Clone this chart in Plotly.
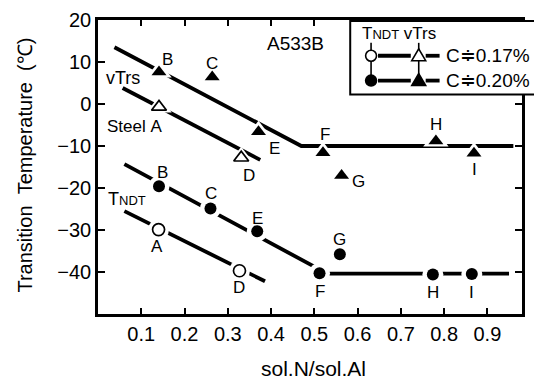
import plotly.graph_objects as go

# ---------------- data ----------------
vtrs_020_x = [0.141, 0.264, 0.371, 0.520, 0.563, 0.781, 0.869]
vtrs_020_y = [7.6, 6.4, -6.6, -11.6, -17.0, -8.8, -11.7]
vtrs_020_lab = ["B", "C", "E", "F", "G", "H", "I"]

vtrs_017_x = [0.141, 0.331]
vtrs_017_y = [-0.7, -12.8]
vtrs_017_lab = ["Steel\u00a0A", "D"]

tndt_020_x = [0.141, 0.260, 0.368, 0.512, 0.559, 0.774, 0.864]
tndt_020_y = [-19.6, -24.9, -30.3, -40.3, -35.8, -40.6, -40.5]
tndt_020_lab = ["B", "C", "E", "F", "G", "H", "I"]

tndt_017_x = [0.140, 0.327]
tndt_017_y = [-29.9, -39.7]
tndt_017_lab = ["A", "D"]

# trend lines (break points)
line_vtrs_020_x = [0.038, 0.470, 0.960]
line_vtrs_020_y = [13.5, -10.0, -10.0]
line_vtrs_017_x = [0.057, 0.375]
line_vtrs_017_y = [3.8, -13.3]
line_tndt_020_x = [0.061, 0.530, 0.950]
line_tndt_020_y = [-14.3, -40.4, -40.4]
line_tndt_017_x = [0.061, 0.386]
line_tndt_017_y = [-25.5, -42.2]

x_ticks = [0.1, 0.2, 0.3, 0.4, 0.5, 0.6, 0.7, 0.8, 0.9]
y_ticks = [-40, -30, -20, -10, 0, 10, 20]

# label offsets in pixels (dx, dy) – styling
off_vtrs_020 = [(8, 13), (0, 14), (16, -17), (2, 18), (17, -6), (0, 16), (1, -16)]
off_vtrs_017 = [(5, -20), (8, -18)]
off_tndt_020 = [(3, 14), (1, 15), (0, 13), (0, -18), (0, 15), (0, -18), (0, -18)]
off_tndt_017 = [(-2, -17), (0, -17)]

# ---------------- layout geometry ----------------
W, H = 534, 382
L, R, T, B = 98, 525, 18, 314
PW, PH = R - L, B - T

def px(x):
    return (x - L) / PW

def py(y):
    return (B - y) / PH

FONT = "Liberation Sans, Arial, Helvetica, sans-serif"

fig = go.Figure()

LW = 3.8
for lx, ly in [(line_vtrs_020_x, line_vtrs_020_y), (line_vtrs_017_x, line_vtrs_017_y),
               (line_tndt_020_x, line_tndt_020_y), (line_tndt_017_x, line_tndt_017_y)]:
    fig.add_trace(go.Scatter(x=lx, y=ly, mode="lines", line=dict(color="black", width=LW),
                             hoverinfo="skip", showlegend=False))

series = [
    (vtrs_020_x, vtrs_020_y, "triangle-up", True, 13),
    (vtrs_017_x, vtrs_017_y, "triangle-up-open", False, 13),
    (tndt_020_x, tndt_020_y, "circle", True, 12),
    (tndt_017_x, tndt_017_y, "circle-open", False, 12),
]
# white halo to break the lines around markers
for sx, sy, sym, filled, sz in series:
    hs = "triangle-up" if "triangle" in sym else "circle"
    fig.add_trace(go.Scatter(x=sx, y=sy, mode="markers",
                             marker=dict(symbol=hs, size=sz + 9, color="white", line=dict(width=0)),
                             hoverinfo="skip", showlegend=False, cliponaxis=False))
for sx, sy, sym, filled, sz in series:
    if filled:
        mk = dict(symbol=sym, size=sz, color="black", line=dict(width=0))
    else:
        mk = dict(symbol=sym, size=sz, color="black", line=dict(width=1.7, color="black"))
    fig.add_trace(go.Scatter(x=sx, y=sy, mode="markers", marker=mk,
                             hoverinfo="skip", showlegend=False, cliponaxis=False))

annotations = []
for sx, sy, labs, offs in [(vtrs_020_x, vtrs_020_y, vtrs_020_lab, off_vtrs_020),
                           (vtrs_017_x, vtrs_017_y, vtrs_017_lab, off_vtrs_017),
                           (tndt_020_x, tndt_020_y, tndt_020_lab, off_tndt_020),
                           (tndt_017_x, tndt_017_y, tndt_017_lab, off_tndt_017)]:
    for x, y, t, (dx, dy) in zip(sx, sy, labs, offs):
        xa = "right" if "Steel" in t else "center"
        annotations.append(dict(x=x, y=y, xref="x", yref="y", text=t, showarrow=False,
                                xanchor=xa, yanchor="middle", xshift=dx, yshift=dy,
                                font=dict(family=FONT, size=17, color="black")))

def ptext(text, x, y, size, xanchor="center", angle=0):
    annotations.append(dict(x=px(x), y=py(y), xref="paper", yref="paper", text=text,
                            showarrow=False, xanchor=xanchor, yanchor="middle",
                            textangle=angle, font=dict(family=FONT, size=size, color="black")))

SMALL = "<span style='font-size:13px'>NDT</span>"
ptext("A533B", 297, 42, 19)
ptext("vTrs", 123, 76, 18)
ptext("T" + SMALL, 127, 198, 18)
ptext("Transition\u00a0\u00a0Temperature\u00a0\u00a0(\u2103)", 24, 164, 20, angle=-90)
ptext("sol.N/sol.Al", 315, 369, 21)

# legend
ptext("T" + SMALL + "\u00a0vTrs", 362, 32, 17, xanchor="left")
ptext("C\u22510.17%", 446, 54, 19, xanchor="left")
ptext("C\u22510.20%", 446, 79, 19, xanchor="left")

shapes = [dict(type="rect", xref="paper", yref="paper", x0=px(352), x1=px(545), y0=py(93), y1=py(19),
               line=dict(color="black", width=2), fillcolor="white", layer="above")]
for yy in (54, 79):
    shapes.append(dict(type="line", xref="paper", yref="paper", x0=px(380), x1=px(413), y0=py(yy), y1=py(yy),
                       line=dict(color="black", width=LW), layer="above"))
    shapes.append(dict(type="line", xref="paper", yref="paper", x0=px(428), x1=px(442), y0=py(yy), y1=py(yy),
                       line=dict(color="black", width=LW), layer="above"))
for xx in (373, 421):
    shapes.append(dict(type="line", xref="paper", yref="paper", x0=px(xx), x1=px(xx), y0=py(41), y1=py(79),
                       line=dict(color="black", width=1.6), layer="above"))
# legend markers
r = 5.5
shapes.append(dict(type="circle", xref="paper", yref="paper", x0=px(373 - r), x1=px(373 + r),
                   y0=py(54 + r), y1=py(54 - r), line=dict(color="black", width=1.6), fillcolor="white", layer="above"))
shapes.append(dict(type="circle", xref="paper", yref="paper", x0=px(373 - r), x1=px(373 + r),
                   y0=py(79 + r), y1=py(79 - r), line=dict(color="black", width=1.6), fillcolor="black", layer="above"))

def tri(cx, cy, fill):
    p = "M {:.4f} {:.4f} L {:.4f} {:.4f} L {:.4f} {:.4f} Z".format(
        px(cx - 7), py(cy + 5), px(cx + 7), py(cy + 5), px(cx), py(cy - 7))
    return dict(type="path", xref="paper", yref="paper", path=p,
                line=dict(color="black", width=1.6), fillcolor=fill, layer="above")

shapes.append(tri(421, 54, "white"))
shapes.append(tri(421, 79, "black"))

axis_common = dict(showgrid=False, zeroline=False, showline=True, linecolor="black", linewidth=2.5,
                   mirror="ticks", ticks="inside", tickcolor="black", tickwidth=2,
                   tickfont=dict(family=FONT, size=20, color="black"))

fig.update_layout(
    width=W, height=H,
    margin=dict(l=L, r=W - R, t=T, b=H - B, pad=0),
    paper_bgcolor="white", plot_bgcolor="white",
    xaxis=dict(range=[0, 0.98], tickvals=x_ticks, ticktext=[str(v) for v in x_ticks], ticklen=6, **axis_common),
    yaxis=dict(range=[-50, 20], tickvals=y_ticks, ticklen=7, **axis_common),
    annotations=annotations, shapes=shapes, showlegend=False,
)

fig.write_html("out.html")
